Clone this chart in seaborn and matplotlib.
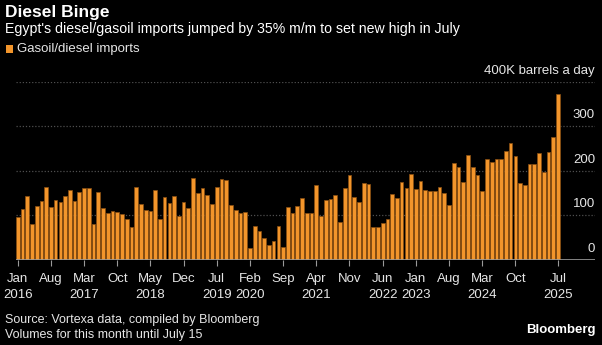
import matplotlib
matplotlib.use("Agg")
import matplotlib.pyplot as plt
import matplotlib.transforms as mtransforms
import seaborn as sns
import pandas as pd
import numpy as np

# ---- data (thousand barrels a day), Jan 2016 .. Jul 2025 ----
months = pd.date_range("2016-01-01", "2025-07-01", freq="MS")
imports = [
    95, 113, 143, 80, 121, 131, 164, 119, 133, 129, 142, 156,   # 2016
    132, 152, 160, 161, 80, 152, 116, 105, 108, 107, 102, 90,   # 2017
    74, 164, 125, 111, 109, 156, 92, 140, 126, 142, 97, 129,    # 2018
    116, 184, 150, 160, 146, 125, 162, 181, 178, 123, 112, 105, # 2019
    107, 26, 75, 64, 49, 32, 41, 76, 29, 119, 105, 120,         # 2020
    139, 105, 105, 168, 98, 133, 137, 145, 84, 160, 190, 140,   # 2021
    130, 172, 170, 74, 72, 83, 90, 148, 139, 175, 160, 193,     # 2022
    158, 177, 157, 155, 155, 164, 150, 123, 217, 208, 174, 234, # 2023
    207, 190, 155, 226, 219, 226, 226, 245, 262, 233, 172, 168, # 2024
    214, 214, 239, 197, 242, 276, 372,                          # 2025
]
tick_idx = [0, 7, 14, 21, 28, 35, 42, 49, 56, 63, 70, 77, 84, 91, 98, 105, 114]
tick_labels = ["Jan\n2016", "Aug", "Mar\n2017", "Oct", "May\n2018", "Dec",
               "Jul\n2019", "Feb\n2020", "Sep", "Apr\n2021", "Nov", "Jun\n2022",
               "Jan\n2023", "Aug", "Mar\n2024", "Oct", "Jul\n2025"]
y_levels = [0, 100, 200, 300, 400]
y_labels = ["0", "100", "200", "300", "400K barrels a day"]

df = pd.DataFrame({"month": months.strftime("%Y-%m"), "imports": imports})

ORANGE = "#F2952B"
EDGE = "#8a4f12"
BG = "#000000"
TXT = "#e6e6e6"
GRID = "#4f4f4f"

sns.set_theme(style="dark")
plt.rcParams["font.family"] = ["Liberation Sans Narrow", "Liberation Sans", "DejaVu Sans"]

W, H = 602, 345
fig = plt.figure(figsize=(W / 100, H / 100), dpi=100, facecolor=BG)

def fx(px):
    return px / W

def fy(py):
    return 1 - py / H

ax_left, ax_right = 16, 595
ax_bottom, ax_top = 259.5, 81.7
ax = fig.add_axes([fx(ax_left), fy(ax_bottom), fx(ax_right - ax_left), (ax_bottom - ax_top) / H])
ax.set_facecolor(BG)

sns.barplot(data=df, x="month", y="imports", color=ORANGE, width=0.78,
            saturation=1, ax=ax, zorder=3, edgecolor=EDGE, linewidth=0.5)

ax.set_ylim(0, 400)
ax.set_xlim(-0.36, 121.8)
ax.set_xlabel("")
ax.set_ylabel("")
for s in ax.spines.values():
    s.set_visible(False)
ax.grid(False)

# dotted gridlines
for v in y_levels[1:]:
    ax.axhline(v, color=GRID, linestyle=(0, (1, 1.5)), linewidth=0.9, zorder=1)
ax.axhline(0, color="#9a9a9a", linewidth=1.2, zorder=4)

# y labels above gridlines at the right
trans = mtransforms.blended_transform_factory(ax.transAxes, ax.transData)
offset = mtransforms.ScaledTranslation(0, 5 / 100, fig.dpi_scale_trans)
for v, lab in zip(y_levels, y_labels):
    ax.text(1.0, v, lab, transform=trans + offset, ha="right", va="bottom",
            color=TXT, fontsize=9.5)

ax.set_yticks([])
ax.set_xticks(tick_idx)
ax.set_xticklabels(tick_labels, color=TXT, fontsize=9.5, linespacing=1.35)
ax.tick_params(axis="x", length=4, width=0.8, color="#9a9a9a", pad=6, bottom=True)

# titles & legend
fig.text(fx(5), fy(12), "Diesel Binge", color="white", fontsize=12.5, fontweight="bold",
         ha="left", va="center")
fig.text(fx(5), fy(29), "Egypt's diesel/gasoil imports jumped by 35% m/m to set new high in July",
         color="white", fontsize=10.2, ha="left", va="center")
fig.patches.append(plt.Rectangle((fx(6), fy(53)), fx(7), 8 / H, transform=fig.transFigure,
                                 facecolor=ORANGE, edgecolor="none"))
fig.text(fx(17), fy(49), "Gasoil/diesel imports", color=TXT, fontsize=9.5,
         ha="left", va="center")

# footer
fig.text(fx(5), fy(320), "Source: Vortexa data, compiled by Bloomberg", color=TXT,
         fontsize=9, ha="left", va="center")
fig.text(fx(5), fy(335), "Volumes for this month until July 15", color=TXT,
         fontsize=9, ha="left", va="center")
fig.text(fx(596), fy(330), "Bloomberg", color="white", fontsize=9.5, fontweight="bold",
         ha="right", va="center")

fig.savefig("out.png", dpi=100, facecolor=BG)
